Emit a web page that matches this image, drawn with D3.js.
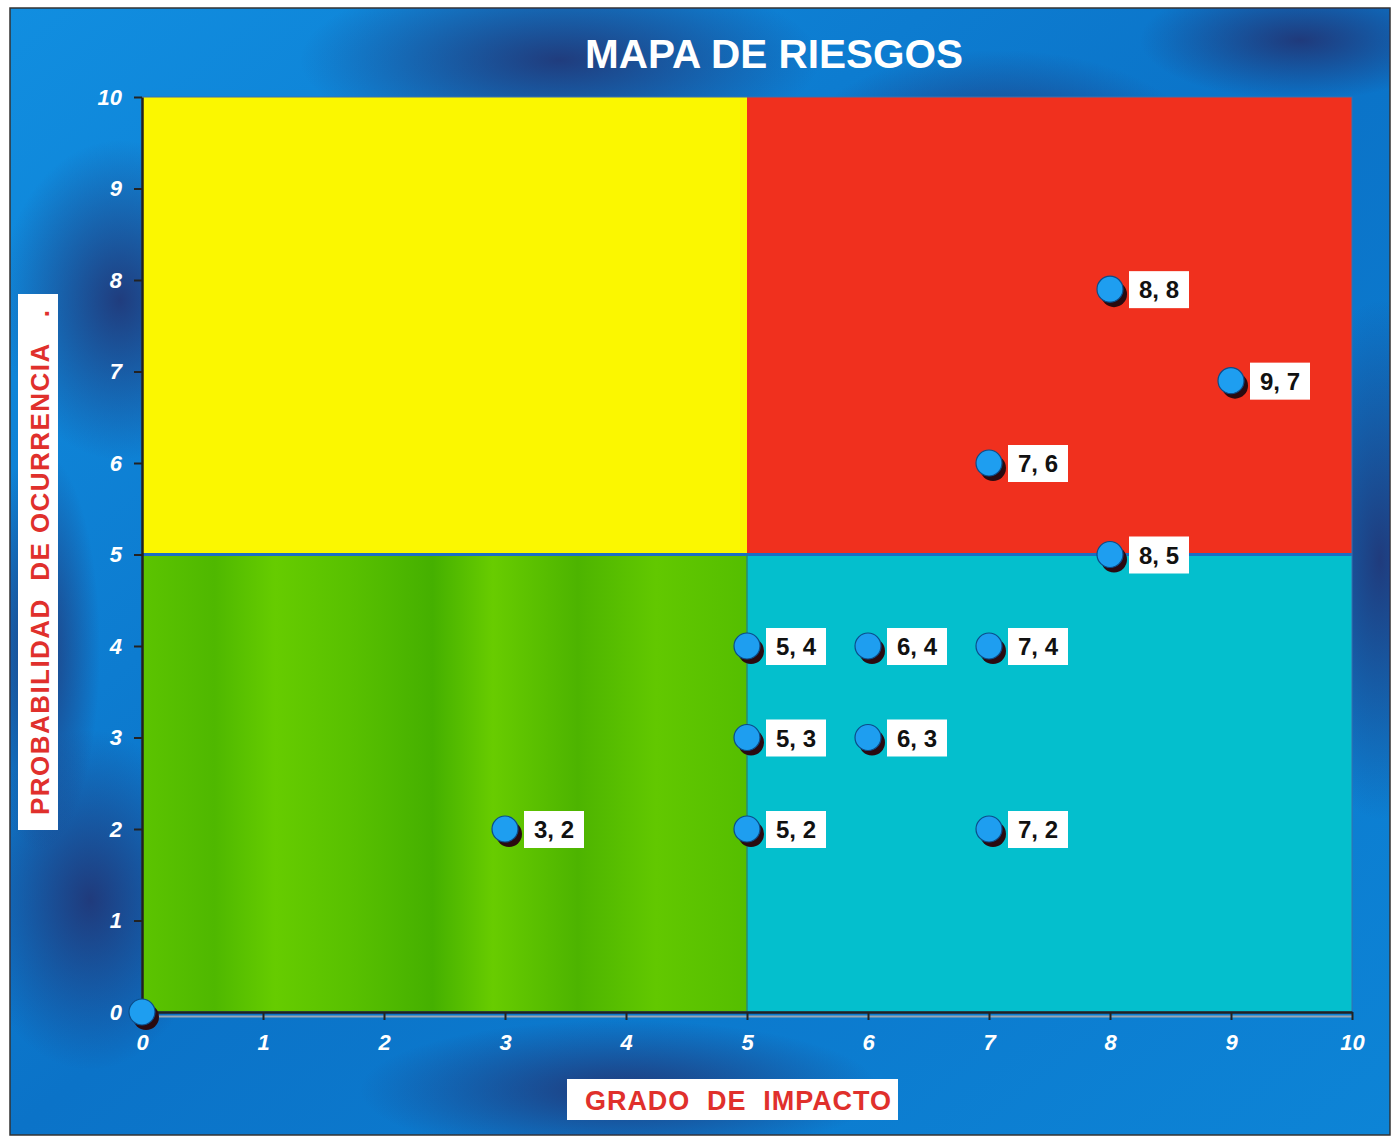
<!DOCTYPE html>
<html>
<head>
<meta charset="utf-8">
<script src="https://cdn.jsdelivr.net/npm/d3@7"></script>
<style>
  body { margin: 0; background: #fff; }
  svg { display: block; }
</style>
</head>
<body>
<svg id="chart" width="1395" height="1138"></svg>
<script>
// Datos del mapa de riesgos
const impacto = [0, 3, 5, 5, 5, 6, 6, 7, 7, 7, 8, 8, 9];
const probabilidad = [0, 2, 2, 3, 4, 3, 4, 2, 4, 6, 5, 7.9, 6.9];
const etiquetas = ["", "3, 2", "5, 2", "5, 3", "5, 4", "6, 3", "6, 4", "7, 2", "7, 4", "7, 6", "8, 5", "8, 8", "9, 7"];

// Cuadrantes (límites en unidades del gráfico)
const zonaNombres = ["bajo", "medio", "alto", "moderado"];
const zonaX0 = [0, 0, 5, 5];
const zonaX1 = [5, 5, 10, 10];
const zonaY0 = [0, 5, 5, 0];
const zonaY1 = [5, 10, 10, 5];
const zonaColor = { bajo: "url(#verde)", medio: "#fbf700", alto: "#f0301e", moderado: "#04bfcd" };

const ticks = [0, 1, 2, 3, 4, 5, 6, 7, 8, 9, 10];

const fuente = "'Liberation Sans', Arial, sans-serif";

const svg = d3.select("#chart");
const defs = svg.append("defs");

// Fondo azul con manchas oscuras
const lg = defs.append("linearGradient").attr("id", "fondo")
  .attr("x1", 0).attr("y1", 0).attr("x2", 1).attr("y2", 1);
lg.append("stop").attr("offset", "0%").attr("stop-color", "#118ee0");
lg.append("stop").attr("offset", "50%").attr("stop-color", "#0b73c8");
lg.append("stop").attr("offset", "100%").attr("stop-color", "#0d84d6");

const rg = defs.append("radialGradient").attr("id", "mancha");
rg.append("stop").attr("offset", "0%").attr("stop-color", "#23306e").attr("stop-opacity", 0.85);
rg.append("stop").attr("offset", "100%").attr("stop-color", "#23306e").attr("stop-opacity", 0);

// Franjas verticales del cuadrante verde
const vg = defs.append("linearGradient").attr("id", "verde")
  .attr("x1", 0).attr("y1", 0).attr("x2", 1).attr("y2", 0);
[["0%", "#5cc400"], ["12%", "#4fb800"], ["22%", "#66cc00"], ["35%", "#58c000"], ["48%", "#45b000"],
 ["58%", "#68cc00"], ["72%", "#4db400"], ["85%", "#62c800"], ["100%", "#55be00"]]
  .forEach(s => vg.append("stop").attr("offset", s[0]).attr("stop-color", s[1]));

svg.append("rect")
  .attr("x", 10).attr("y", 8).attr("width", 1380).attr("height", 1127)
  .attr("fill", "url(#fondo)")
  .attr("stroke", "#333").attr("stroke-width", 1.5);

const clip = defs.append("clipPath").attr("id", "marco");
clip.append("rect").attr("x", 10).attr("y", 8).attr("width", 1380).attr("height", 1127);

const manchas = svg.append("g").attr("clip-path", "url(#marco)");
[[560, 60, 260, 90], [1000, 150, 200, 100], [120, 300, 120, 160], [90, 900, 120, 170],
 [1380, 560, 90, 260], [620, 1090, 260, 70], [1300, 40, 160, 60], [40, 650, 60, 200]]
  .forEach(m => manchas.append("ellipse")
    .attr("cx", m[0]).attr("cy", m[1]).attr("rx", m[2]).attr("ry", m[3])
    .attr("fill", "url(#mancha)"));

// Escalas
const x = d3.scaleLinear().domain([0, 10]).range([142, 1352]);
const y = d3.scaleLinear().domain([0, 10]).range([1012, 97]);

// Cuadrantes
svg.append("g").selectAll("rect")
  .data(zonaNombres)
  .enter()
  .append("rect")
  .attr("x", (d, i) => x(zonaX0[i]))
  .attr("y", (d, i) => y(zonaY1[i]))
  .attr("width", (d, i) => x(zonaX1[i]) - x(zonaX0[i]))
  .attr("height", (d, i) => y(zonaY0[i]) - y(zonaY1[i]))
  .attr("fill", d => zonaColor[d]);

// Líneas divisorias
svg.append("line")
  .attr("x1", x(0)).attr("x2", x(10))
  .attr("y1", y(5)).attr("y2", y(5))
  .style("stroke", "#1b6ec4").style("stroke-width", 3);
svg.append("line")
  .attr("x1", x(5)).attr("x2", x(5))
  .attr("y1", y(5)).attr("y2", y(0))
  .style("stroke", "#2a8a70").style("stroke-width", 1.5);
svg.append("rect")
  .attr("x", x(0)).attr("y", y(10))
  .attr("width", x(10) - x(0)).attr("height", y(0) - y(10))
  .attr("fill", "none").attr("stroke", "#3a6fb0").attr("stroke-width", 1);

// Ejes
const ejeX = svg.append("g")
  .attr("transform", `translate(0,${y(0)})`)
  .call(d3.axisBottom(x).tickValues(ticks).tickSize(8).tickPadding(14).tickSizeOuter(0));
const ejeY = svg.append("g")
  .attr("transform", `translate(${x(0)},0)`)
  .call(d3.axisLeft(y).tickValues(ticks).tickSize(8).tickPadding(12).tickSizeOuter(0));

[ejeX, ejeY].forEach(g => {
  g.select(".domain").attr("stroke", "#222").attr("stroke-width", 2.5);
  g.selectAll(".tick line").attr("stroke", "#222").attr("stroke-width", 2);
  g.selectAll(".tick text")
    .attr("fill", "#fff")
    .style("font-family", fuente)
    .style("font-size", "22px")
    .style("font-style", "italic")
    .style("font-weight", "bold");
});
ejeX.select(".domain").clone().lower()
  .attr("transform", "translate(0,4)").attr("stroke", "#9aa6b0").attr("stroke-width", 2);

// Título
svg.append("text")
  .attr("x", 585).attr("y", 68)
  .attr("fill", "#fff")
  .attr("textLength", 378)
  .attr("lengthAdjust", "spacingAndGlyphs")
  .style("font-family", fuente)
  .style("font-size", "41px")
  .style("font-weight", "bold")
  .text("MAPA DE RIESGOS");

// Título eje Y
svg.append("rect")
  .attr("x", 18).attr("y", 294).attr("width", 40).attr("height", 536)
  .attr("fill", "#fff");
svg.append("text")
  .attr("transform", "translate(49,815) rotate(-90)")
  .attr("fill", "#e0302c")
  .attr("textLength", 505)
  .style("font-family", fuente)
  .style("font-size", "26px")
  .style("font-weight", "bold")
  .style("white-space", "pre")
  .text("PROBABILIDAD  DE OCURRENCIA   .");

// Título eje X
svg.append("rect")
  .attr("x", 567).attr("y", 1079).attr("width", 331).attr("height", 41)
  .attr("fill", "#fff");
svg.append("text")
  .attr("x", 585).attr("y", 1110)
  .attr("fill", "#e0302c")
  .attr("textLength", 306)
  .style("font-family", fuente)
  .style("font-size", "27px")
  .style("font-weight", "bold")
  .style("white-space", "pre")
  .text("GRADO  DE  IMPACTO");

// Puntos de riesgo
const puntos = svg.append("g").selectAll("g")
  .data(d3.range(impacto.length))
  .enter()
  .append("g")
  .attr("transform", i => `translate(${x(impacto[i])},${y(probabilidad[i])})`);

puntos.append("circle")
  .attr("cx", 4).attr("cy", 5).attr("r", 13)
  .style("fill", "#2a0a10");
puntos.append("circle")
  .attr("r", 13)
  .style("fill", "#1e9ef0")
  .style("stroke", "#0b4d8a")
  .style("stroke-width", 1.2);

// Etiquetas en recuadro blanco
const conEtiqueta = puntos.filter(i => etiquetas[i] !== "");
conEtiqueta.append("rect")
  .attr("x", 19).attr("y", -18)
  .attr("width", 60).attr("height", 37)
  .style("fill", "#fff");
conEtiqueta.append("text")
  .attr("x", 49).attr("y", 9)
  .attr("text-anchor", "middle")
  .style("font-family", fuente)
  .style("font-size", "24px")
  .style("font-weight", "bold")
  .style("fill", "#111")
  .text(i => etiquetas[i]);
</script>
</body>
</html>
